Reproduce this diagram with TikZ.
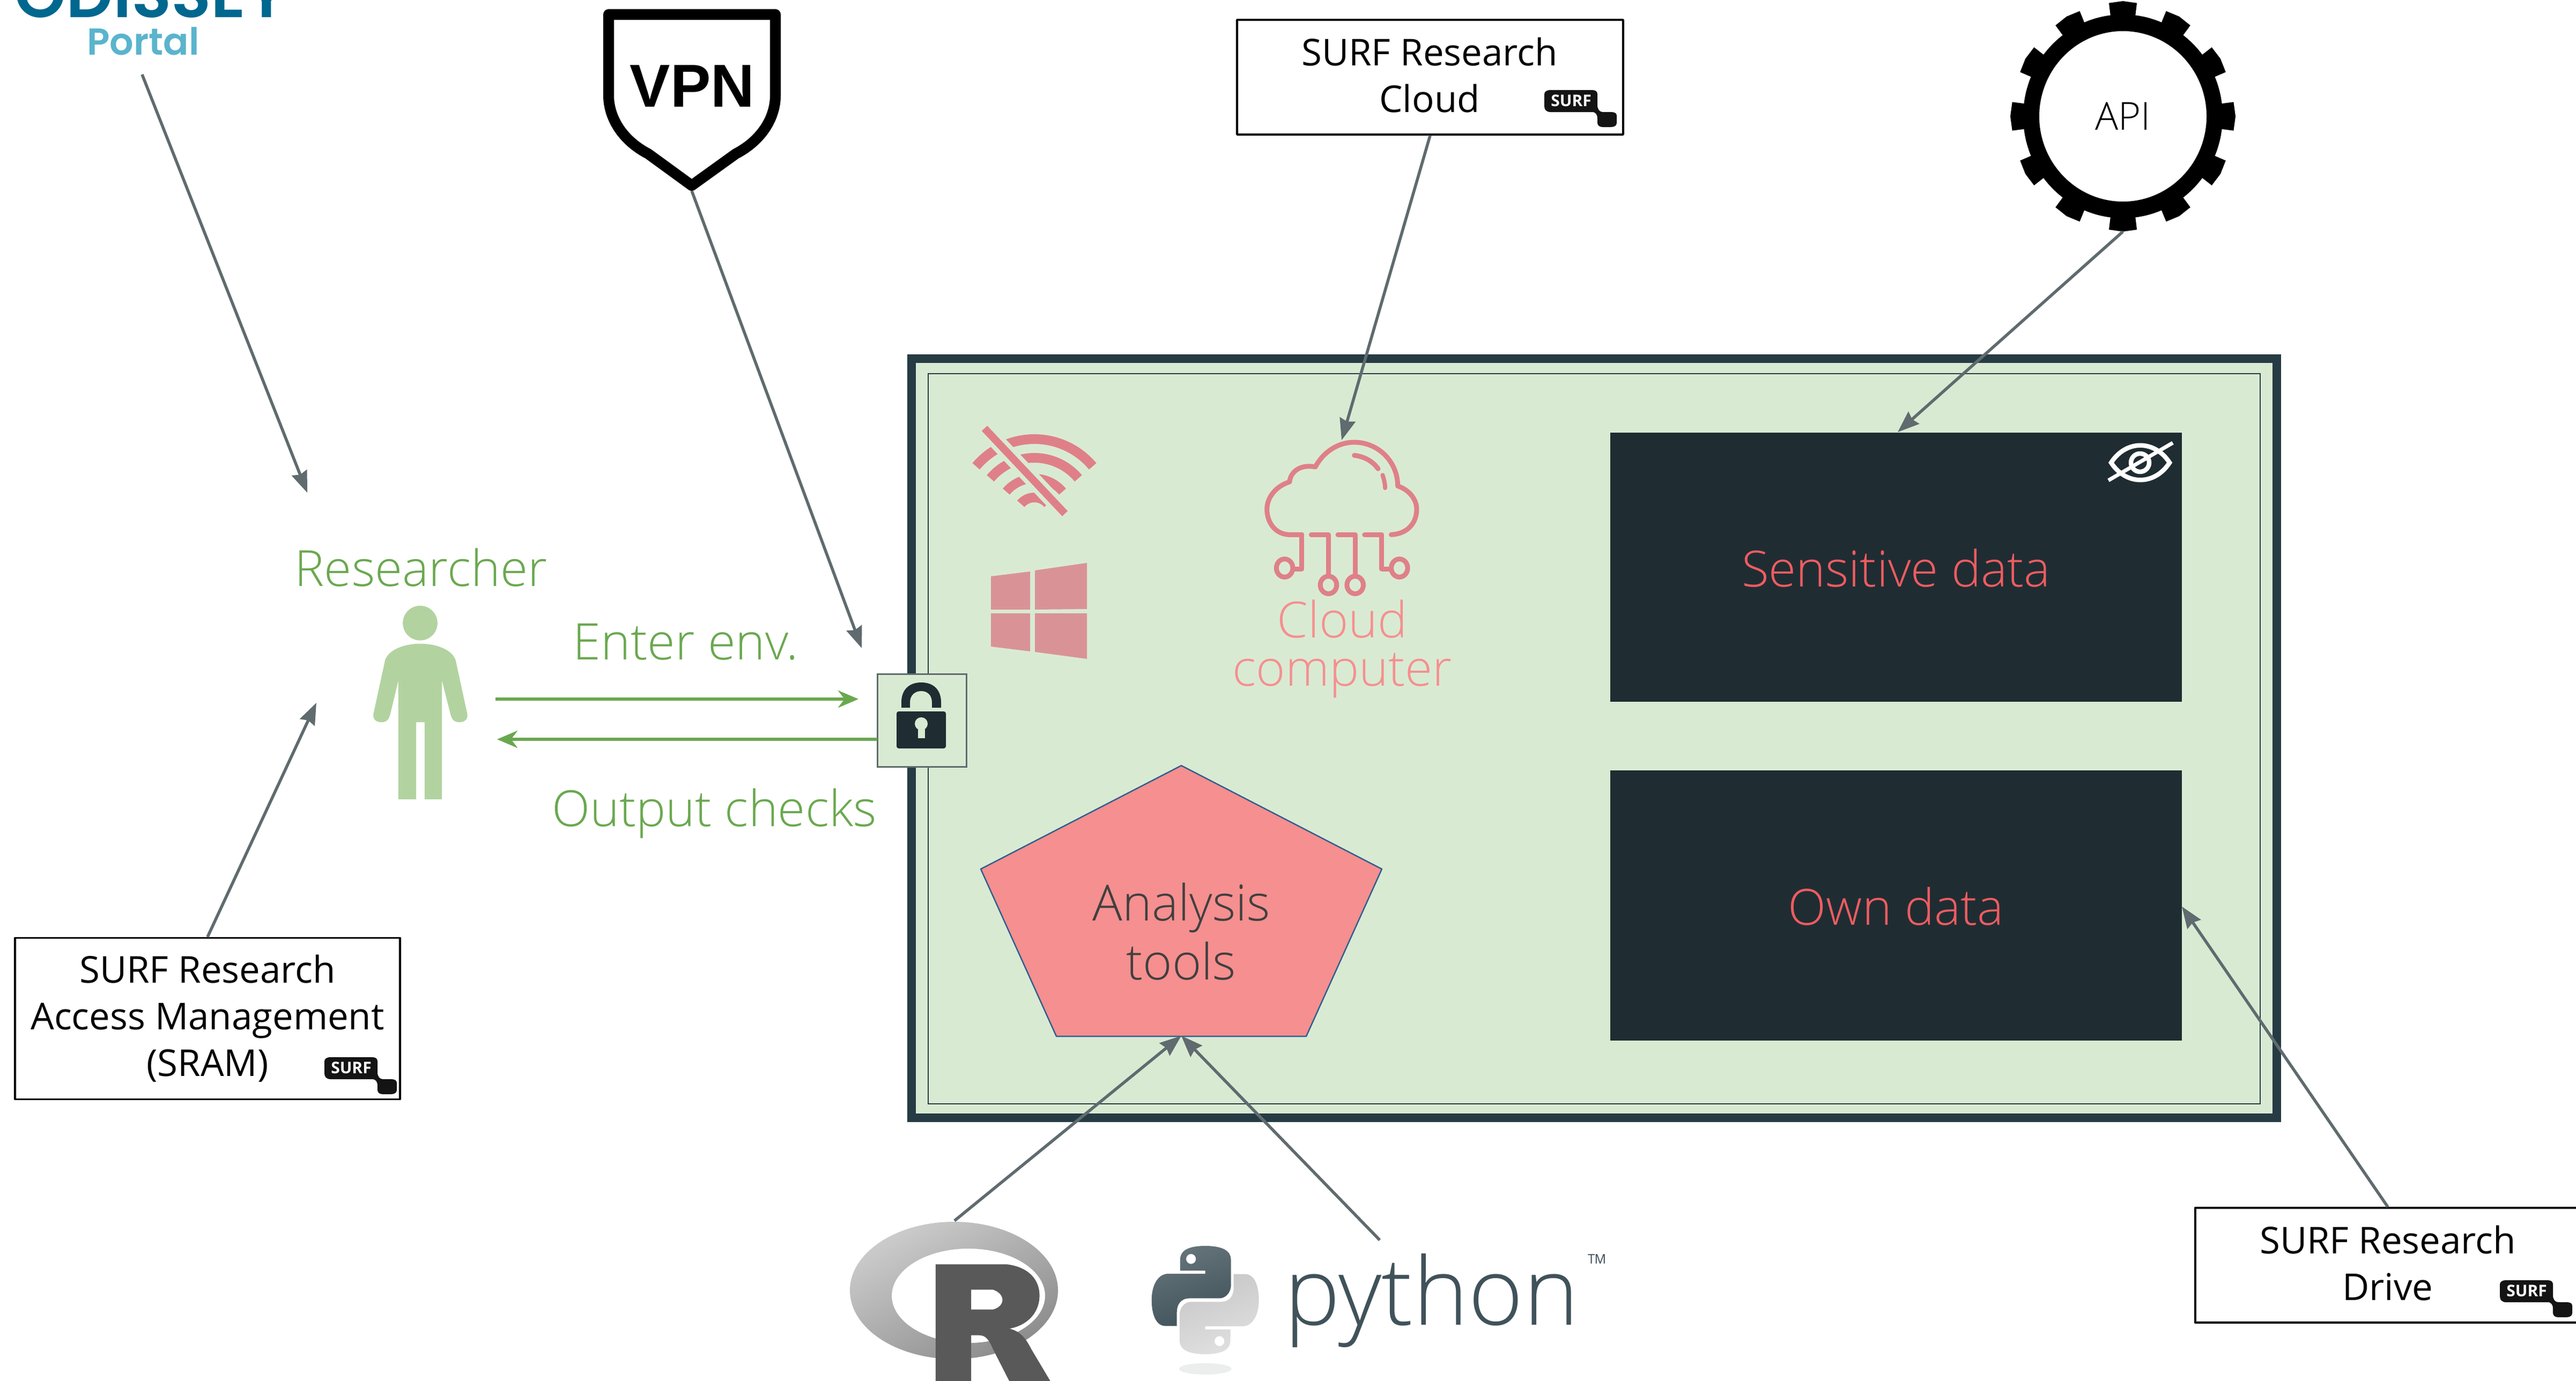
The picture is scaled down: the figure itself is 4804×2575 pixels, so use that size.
\documentclass[tikz,border=0pt]{standalone}
\usepackage{fontspec}
\usetikzlibrary{arrows.meta}
\setmainfont{Open Sans}[UprightFont={* Light},BoldFont={* Bold}]
\newfontfamily\regf{Open Sans}
\newfontfamily\popf{Poppins}[BoldFont={* SemiBold}]
\newfontfamily\libf{Liberation Sans}
\newcommand\fs[2]{\fontsize{#1}{#2}\selectfont}
\definecolor{envfill}{HTML}{D9EAD3}
\definecolor{envline}{HTML}{263B43}
\definecolor{dark}{HTML}{1F2D33}
\definecolor{alert}{HTML}{EE5C60}
\definecolor{rose}{HTML}{F68F8F}
\definecolor{iconrose}{HTML}{DF8088}
\definecolor{winrose}{HTML}{D99397}
\definecolor{grn}{HTML}{6AA84F}
\definecolor{person}{HTML}{B2D3A0}
\definecolor{conn}{HTML}{5F6B6E}
\definecolor{pyd}{HTML}{40525A}
\tikzset{
  conn/.style={draw=conn,line width=5.5,-{Stealth[length=40,width=30,inset=4]}},
  flow/.style={draw=grn,line width=6,-{Stealth[length=38,width=32,inset=12]}},
  txt/.style={inner sep=0,anchor=base},
  multi/.style={inner sep=0,align=center,anchor=center},
  servicebox/.style={draw=black,fill=white,line width=3.5,inner sep=0,line join=round},
  servicetext/.style={multi,font=\regf\fs{69}{87}},
  datastore/.style={fill=dark,draw=none,inner sep=0},
}
\newcommand\surflogo[2]{%
  \begin{scope}[shift={(#1,#2)}]
  \fill[black!92] (12,0) -- (89,0) .. controls (96,0) and (99,3) .. (99,8) -- (99,28) .. controls (99,36) and (103,41) .. (109,41)
   -- (124,41) .. controls (131,41) and (135,43) .. (135,48) -- (135,61) .. controls (135,66) and (131,69) .. (124,69)
   -- (109,69) .. controls (103,69) and (99,66) .. (99,61) -- (99,53) .. controls (99,46) and (96,41) .. (89,41)
   -- (12,41) .. controls (4,41) and (0,37) .. (0,30) -- (0,8) .. controls (0,3) and (4,0) .. (12,0) -- cycle;
  \node[inner sep=0,text=white,font=\bfseries\fs{30}{30}] at (50,20) {SURF};
  \end{scope}}
\begin{document}
\begin{tikzpicture}[x=1pt,y=-1pt]
\useasboundingbox (0,0) rectangle (4804,2575);
\clip (0,0) rectangle (4804,2575);
\fill[white] (0,0) rectangle (4804,2575);

% environment
\node[draw=envline,fill=envfill,line width=16,minimum width=2546,minimum height=1416,inner sep=0] (env) at (2973,1377) {};
\draw[envline,line width=2] (1731,697) rectangle (4215,2059);

% data stores
\node[datastore,minimum width=1066,minimum height=502] (sens) at (3536,1058) {};
\node[datastore,minimum width=1066,minimum height=504] (own) at (3536,1689) {};
\node[txt,text=alert,font=\fs{93}{110}] (senst) at (3536,1094) {Sensitive data};
\node[txt,text=alert,font=\fs{93}{110}] (ownt) at (3536,1725) {Own data};

% eye icon
\begin{scope}[draw=white,line width=8.5]
\draw (3937,863) .. controls (3965,820) and (4018,820) .. (4046,863) .. controls (4018,906) and (3965,906) .. (3937,863) -- cycle;
\draw (3991,863) circle[radius=17];
\draw[line width=7] (3932,896) -- (4052,826);
\end{scope}

% wifi icon
\begin{scope}
\foreach \r/\t in {142/18,107/18,68.5/17,33/18}{
  \draw[iconrose,line width=\t] plot[domain=-50:50,samples=40] ({1929+\r*sin(\x)},{961-\r*cos(\x)});
}
\draw[envfill,line width=30] (1830,793) -- (1992,964);
\draw[iconrose,line width=14] (1836,799) -- (1986,958);
\end{scope}

% windows icon
\fill[winrose] (1848,1075) -- (1921,1066) -- (1921,1137) -- (1848,1137) -- cycle;
\fill[winrose] (1930,1064) -- (2027,1050) -- (2027,1136) -- (1930,1137) -- cycle;
\fill[winrose] (1848,1144) -- (1921,1144) -- (1921,1215) -- (1848,1206) -- cycle;
\fill[winrose] (1930,1144) -- (2027,1144) -- (2027,1229) -- (1930,1216) -- cycle;

% cloud icon
\begin{scope}[shift={(1600,700)},x=0.765pt,y=-0.51pt]
\draw[iconrose,line width=9,line cap=round,line join=round] (1082,583) -- (1050,583) .. controls (1015,580) and (997,535) .. (997,490)
  .. controls (997,445) and (1020,405) .. (1052,390) .. controls (1055,350) and (1080,325) .. (1115,335)
  .. controls (1135,280) and (1170,245) .. (1210,245) .. controls (1265,245) and (1315,310) .. (1316,405)
  .. controls (1345,420) and (1362,455) .. (1362,490) .. controls (1362,540) and (1340,580) .. (1300,583);
\draw[iconrose,line width=9,line cap=round,line join=round] (1082,583) -- (1082,708) -- (1060,708);
\draw[iconrose,line width=9,line cap=round,line join=round] (1105,583) -- (1147,583) -- (1147,735);
\draw[iconrose,line width=9,line cap=round,line join=round] (1170,583) -- (1212,583) -- (1212,735);
\draw[iconrose,line width=9,line cap=round,line join=round] (1235,583) -- (1277,583) -- (1277,708) -- (1298,708);
\draw[iconrose,line width=9] (1040,705) circle[x radius=20,y radius=33];
\draw[iconrose,line width=9] (1320,705) circle[x radius=20,y radius=33];
\draw[iconrose,line width=9] (1147,767) circle[x radius=20,y radius=32];
\draw[iconrose,line width=9] (1212,767) circle[x radius=20,y radius=32];
\draw[iconrose,line width=9,line cap=round] (1210,293) .. controls (1235,297) and (1255,315) .. (1268,342);
\draw[iconrose,line width=8,line cap=round] (1279,365) .. controls (1282,380) and (1285,395) .. (1285,412);
\end{scope}
\node[multi,text=rose,font=\fs{93}{90}] (cloudt) at (2503,1210) {Cloud\\computer};
\coordinate (cloudin) at (2502,821);

% analysis tools
\draw[draw={rgb,255:red,47;green,95;blue,143},fill=rose,line width=2.5,line join=round] (2203,1428) -- (2577,1621) -- (2436,1933) -- (1970,1933) -- (1829,1621) -- cycle;
\coordinate (toolsin) at (2203,1932);
\node[multi,text=black!75,font=\fs{93}{110}] (tools) at (2203,1738) {Analysis\\tools};

% lock
\node[draw=conn,fill=envfill,line width=3,minimum width=166,minimum height=173,inner sep=0] (lock) at (1719,1343.5) {};
\fill[dark,rounded corners=4] (1672,1327) rectangle (1764,1396);
\fill[dark,even odd rule] (1681,1320) -- (1681,1310) .. controls (1681,1287) and (1695,1273) .. (1718,1273) .. controls (1741,1273) and (1755,1287) .. (1755,1310) -- (1755,1320) -- (1738,1320) -- (1738,1310) .. controls (1738,1297) and (1730,1289) .. (1718,1289) .. controls (1706,1289) and (1697,1297) .. (1697,1310) -- (1697,1320) -- cycle;
\fill[envfill] (1718,1350) circle[radius=12];
\fill[envfill] (1712,1352) rectangle (1725,1377);
\coordinate (lockin) at (1601,1304);
\coordinate (lockout) at (1636,1379);
\coordinate (lockvpn) at (1607,1209);

% researcher
\begin{scope}[shift={(500,950)},x=0.829pt,y=-0.4145pt]
\fill[person] (342,512) circle[x radius=39,y radius=78];
\fill[person] (342,605) .. controls (300,605) and (265,640) .. (262,690) -- (237,920) .. controls (235,945) and (243,958) .. (255,958) .. controls (267,958) and (272,945) .. (275,920) -- (293,770)
 -- (293,1305) -- (333,1305) -- (333,958) -- (352,958) -- (352,1305) -- (391,1305) -- (391,770) -- (410,920) .. controls (413,945) and (418,958) .. (430,958) .. controls (442,958) and (450,945) .. (448,920) -- (423,690) .. controls (420,640) and (385,605) .. (342,605) -- cycle;
\end{scope}
\node[txt,text=grn,font=\fs{93}{110}] (res) at (785,1093) {Researcher};
\coordinate (resout) at (924,1304);
\coordinate (resin) at (927,1379);
\coordinate (respor) at (573,919);
\coordinate (ressram) at (590,1311);
\draw[flow] (resout) -- (lockin);
\draw[flow] (lockout) -- (resin);
\node[txt,text=grn,font=\fs{94}{110}] (enter) at (1279,1230) {Enter env.};
\node[txt,text=grn,font=\fs{93}{110}] (output) at (1332,1541) {Output checks};

% odissey
\node[txt,text={rgb,255:red,0;green,103;blue,143},font=\popf\bfseries\fs{122}{122}] (od) at (282,32) {ODISSEY};
\node[txt,text={rgb,255:red,90;green,180;blue,204},font=\popf\bfseries\fs{70}{70}] (portal) at (267,102) {Portal};
\coordinate (odout) at (265,139);

% vpn
\draw[black,line width=20,line join=round,fill=white] (1135,27) -- (1446,27) -- (1446,178) .. controls (1446,220) and (1420,262) .. (1372,287) -- (1290,346)
 -- (1209,287) .. controls (1161,262) and (1135,220) .. (1135,178) -- cycle;
\node[txt,font=\libf\bfseries\fs{113}{113}] (vpn) at (1291,199) {VPN};
\coordinate (vpnout) at (1290,356);

% gear / API
\fill[black,even odd rule] (3959,217) circle[x radius=186,y radius=190] (3959,217) circle[x radius=156,y radius=159];
\foreach \a in {0,30,...,330}{
  \fill[black] ({3959+176*cos(\a-7.2)},{217+180*sin(\a-7.2)}) -- ({3959+208*cos(\a-7.2)},{217+213*sin(\a-7.2)})
   -- ({3959+210*cos(\a)},{217+215*sin(\a)}) -- ({3959+208*cos(\a+7.2)},{217+213*sin(\a+7.2)}) -- ({3959+176*cos(\a+7.2)},{217+180*sin(\a+7.2)}) -- cycle;
}
\node[txt,font=\fs{72}{72}] (api) at (3959,242) {API};
\coordinate (apiout) at (3959,432);
\coordinate (sensin) at (3539,806);

% service boxes
\node[servicebox,minimum width=718,minimum height=301] (sram) at (387,1900) {};
\node[servicetext] (sramt) at (387,1900) {SURF Research\\Access Management\\(SRAM)};
\surflogo{605}{1972}
\node[servicebox,minimum width=720,minimum height=214] (srcb) at (2667,144) {};
\node[servicetext] (srct) at (2666,140) {SURF Research\\Cloud};
\surflogo{2880}{168}
\node[servicebox,minimum width=718,minimum height=214] (drive) at (4453,2360) {};
\node[servicetext] (drivet) at (4453,2356) {SURF Research\\Drive};
\surflogo{4662}{2388}
\coordinate (ownin) at (4069,1691);

% R logo
\shade[even odd rule,left color=black!20,right color=black!45,shading angle=30] (1779,2407) circle[x radius=194,y radius=128] (1806,2417) circle[x radius=143,y radius=88];
\coordinate (rout) at (1780,2277);
\begin{scope}[shift={(1500,2150)},x=1.02pt,y=-0.3333pt]
\fill[black!65,even odd rule] (240,625) -- (370,625) .. controls (410,640) and (430,710) .. (430,800) .. controls (430,890) and (410,965) .. (375,985)
  .. controls (395,1000) and (405,1040) .. (415,1100) -- (450,1280) -- (375,1280) -- (345,1100) .. controls (338,1050) and (332,1022) .. (320,1022) -- (305,1022) -- (305,1280) -- (240,1280) -- cycle
  (305,767) -- (345,767) .. controls (368,790) and (368,860) .. (345,878) -- (305,878) -- cycle;
% python logo
\fill[pyd!10] (733,1210) circle[x radius=48,y radius=32];
\begin{scope}[shift={(733,825)}]
\def\snake{(0,-303) .. controls (35,-303) and (47,-270) .. (47,-225) -- (47,-85) .. controls (47,-35) and (35,-10) .. (27,-10) -- (-28,-10) .. controls (-45,-10) and (-52,25) .. (-52,70) -- (-52,145) -- (-73,145) .. controls (-90,145) and (-98,80) .. (-98,0) .. controls (-98,-90) and (-85,-147) .. (-68,-147) -- (0,-147) -- (0,-165) -- (-46,-165) -- (-46,-225) .. controls (-46,-270) and (-35,-303) .. (0,-303) -- cycle}
\shade[left color=pyd!80,right color=pyd,shading angle=20,even odd rule] \snake (-26,-230) circle[x radius=9,y radius=28];
\begin{scope}[xscale=-1,yscale=-1]
\shade[left color=black!22,right color=black!12,shading angle=20,even odd rule] \snake (-26,-230) circle[x radius=9,y radius=28];
\end{scope}
\end{scope}
\end{scope}
\node[txt,text=pyd,font=\fs{175}{175}] (py) at (2670,2471) {python};
\node[inner sep=0,text=pyd,font=\fs{50}{50}] (tm) at (2980,2358) {™};
\coordinate (pyout) at (2573,2313);

% connectors
\draw[conn] (odout) -- (respor);
\draw[conn] (vpnout) -- (lockvpn);
\draw[conn] (srcb.south) -- (cloudin);
\draw[conn] (apiout) -- (sensin);
\draw[conn] (sram.north) -- (ressram);
\draw[conn] (rout) -- (toolsin);
\draw[conn] (pyout) -- (toolsin);
\draw[conn] (drive.north) -- (ownin);
\end{tikzpicture}
\end{document}
